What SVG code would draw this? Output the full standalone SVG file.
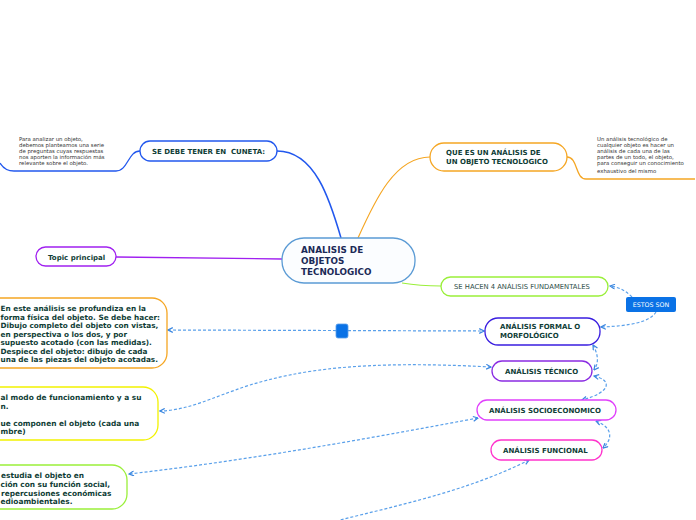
<svg xmlns="http://www.w3.org/2000/svg" width="696" height="520" viewBox="0 0 696 520">
<defs>
<style>
.t{font-family:"DejaVu Sans",Verdana,sans-serif;font-weight:bold;fill:#0f3d36}
.n{font-family:"DejaVu Sans",Verdana,sans-serif;fill:#333;font-size:5.4px}
.d{fill:none;stroke:#5aa0ea;stroke-width:1.2;stroke-dasharray:3 2}
.box{fill:#fff;stroke-width:1.3}
</style>
<marker id="a" viewBox="0 0 10 10" refX="9" refY="5" markerWidth="5" markerHeight="5" orient="auto-start-reverse"><path d="M1,1 L9,5 L1,9" fill="none" stroke="#3a86e0" stroke-width="2"/></marker>
</defs>
<rect width="696" height="520" fill="#fff"/>
<g id="connectors">
<path d="M341,238 C330,200 315,151 277,151" fill="none" stroke="#2258ee" stroke-width="1.5"/>
<path d="M358,238 C375,200 395,157 430,157" fill="none" stroke="#f5a623" stroke-width="1.2"/>
<path d="M116,257 L282,259" fill="none" stroke="#a020f0" stroke-width="1.3"/>
<path d="M402,283 C420,286 430,286 441,286" fill="none" stroke="#9aef3a" stroke-width="1.2"/>
<path d="M140,151 C128,151 128,171 116,171 L14,171 Q5,171 0,163" fill="none" stroke="#2258ee" stroke-width="1.3"/>
<path d="M567,157 C578,157 575,179 586,179 L695,179" fill="none" stroke="#f5a623" stroke-width="1.3"/>
<path class="d" d="M632,297 C625,290 618,287 610,286" marker-end="url(#a)"/>
<path class="d" d="M656,312 C650,322 630,326 601,327" marker-end="url(#a)"/>
<path class="d" d="M168,330 L484,331" marker-start="url(#a)" marker-end="url(#a)"/>
<path class="d" d="M593,345 C597,352 600,362 594,370" marker-start="url(#a)" marker-end="url(#a)"/>
<path class="d" d="M594,376 C612,380 612,392 582,400" marker-start="url(#a)" marker-end="url(#a)"/>
<path class="d" d="M596,421 C614,428 612,440 603,448" marker-start="url(#a)" marker-end="url(#a)"/>
<path class="d" d="M491,367 C360,360 300,370 250,385 C210,398 190,410 160,411" marker-start="url(#a)" marker-end="url(#a)"/>
<path class="d" d="M478,418 C360,440 250,460 129,474" marker-start="url(#a)" marker-end="url(#a)"/>
<path class="d" d="M529,460 C470,490 400,505 340,520" marker-start="url(#a)"/>
<rect x="336" y="324" width="12" height="14" rx="2" fill="#0a72e6" stroke="#5aa0ea" stroke-width="0.8"/>
</g>
<g id="central">
<rect x="282" y="238" width="133" height="45" rx="22" fill="#fbfdff" stroke="#5b9bd5" stroke-width="1.3"/>
<text class="t" style="fill:#1b2a57" font-size="8.8"><tspan x="301" y="253">ANALISIS DE</tspan><tspan x="301" y="264">OBJETOS</tspan><tspan x="301" y="275">TECNOLOGICO</tspan></text>
</g>
<g id="n-cuneta">
<rect class="box" x="140" y="141" width="137" height="20" rx="10" stroke="#2258ee"/>
<text class="t" x="152" y="154" font-size="7" style="white-space:pre" xml:space="preserve">SE DEBE TENER EN  CUNETA:</text>
</g>
<g id="note-left">
<text class="n"><tspan x="19" y="141">Para analizar un objeto,</tspan><tspan x="19" y="147">debemos planteamos una serie</tspan><tspan x="19" y="153">de preguntas cuyas respuestas</tspan><tspan x="19" y="159">nos aporten la información más</tspan><tspan x="19" y="165">relevante sobre el objeto.</tspan></text>
</g>
<g id="n-quees">
<rect class="box" x="430" y="143" width="137" height="28" rx="14" stroke="#f5a623"/>
<text class="t" font-size="7"><tspan x="446" y="155">QUE ES UN ANÁLISIS DE</tspan><tspan x="446" y="164">UN OBJETO TECNOLOGICO</tspan></text>
</g>
<g id="note-right">
<text class="n"><tspan x="597" y="141">Un análisis tecnológico de</tspan><tspan x="597" y="147">cualquier objeto es hacer un</tspan><tspan x="597" y="153">análisis de cada una de las</tspan><tspan x="597" y="159">partes de un todo, el objeto,</tspan><tspan x="597" y="165">para conseguir un conocimiento</tspan><tspan x="597" y="173">exhaustivo del mismo</tspan></text>
</g>
<g id="n-topic">
<rect class="box" x="36" y="247" width="80" height="19" rx="9.5" stroke="#a020f0"/>
<text class="t" x="48" y="260" font-size="7">Topic principal</text>
</g>
<g id="n-sehacen">
<rect class="box" x="441" y="277" width="167" height="19" rx="9.5" stroke="#9aef3a"/>
<text class="t" x="454" y="289" font-size="6.8" style="font-weight:normal;fill:#2f4f4a">SE HACEN 4 ANÁLISIS FUNDAMENTALES</text>
</g>
<g id="n-estos">
<rect x="626" y="297" width="50" height="15" rx="2" fill="#0a72e6"/>
<text x="651" y="307" font-family="DejaVu Sans,Verdana,sans-serif" font-size="6.3" fill="#fff" text-anchor="middle">ESTOS SON</text>
</g>
<g id="n-formal">
<rect class="box" x="485" y="318" width="115" height="27" rx="13" stroke="#3a1ee0"/>
<text class="t" font-size="7"><tspan x="500" y="329">ANÁLISIS FORMAL O</tspan><tspan x="500" y="338">MORFOLÓGICO</tspan></text>
</g>
<g id="n-tecnico">
<rect class="box" x="492" y="361" width="100" height="20" rx="10" stroke="#8a2be2"/>
<text class="t" x="505" y="374" font-size="7">ANÁLISIS TÉCNICO</text>
</g>
<g id="n-socio">
<rect class="box" x="477" y="400" width="139" height="20" rx="10" stroke="#e040fb"/>
<text class="t" x="489" y="413" font-size="7">ANÁLISIS SOCIOECONOMICO</text>
</g>
<g id="n-funcional">
<rect class="box" x="491" y="440" width="111" height="20" rx="10" stroke="#ff33cc"/>
<text class="t" x="503" y="453" font-size="7">ANÁLISIS FUNCIONAL</text>
</g>
<g id="n-formal-desc">
<rect class="box" x="-20" y="298" width="187" height="70" rx="15" stroke="#f5a623"/>
<text class="t" font-size="7.3"><tspan x="0.5" y="311">En este análisis se profundiza en la</tspan><tspan x="0.5" y="319.5">forma física del objeto. Se debe hacer:</tspan><tspan x="0.5" y="328">Dibujo completo del objeto con vistas,</tspan><tspan x="0.5" y="336.5">en perspectiva o los dos, y por</tspan><tspan x="0.5" y="345">supuesto acotado (con las medidas).</tspan><tspan x="0.5" y="353.5">Despiece del objeto: dibujo de cada</tspan><tspan x="0.5" y="362">una de las piezas del objeto acotadas.</tspan></text>
</g>
<g id="n-tecnico-desc">
<rect class="box" x="-20" y="387" width="178" height="53" rx="15" stroke="#f2f200"/>
<text class="t" font-size="7.4"><tspan x="0.5" y="400">al modo de funcionamiento y a su</tspan><tspan x="0.5" y="409">n.</tspan><tspan x="0.5" y="426">ue componen el objeto (cada una</tspan><tspan x="0.5" y="434">mbre)</tspan></text>
</g>
<g id="n-socio-desc">
<rect class="box" x="-20" y="465" width="147" height="44" rx="15" stroke="#9aef3a"/>
<text class="t" font-size="7.4"><tspan x="1" y="478">estudia el objeto en</tspan><tspan x="0.5" y="487">ción con su función social,</tspan><tspan x="1" y="496">repercusiones económicas</tspan><tspan x="0.5" y="504">edioambientales.</tspan></text>
</g>
</svg>
